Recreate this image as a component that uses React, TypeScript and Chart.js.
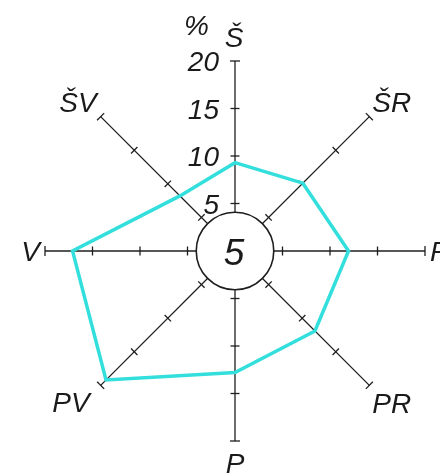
import React, { useEffect, useRef } from "react";
import { Chart, registerables } from "chart.js";

Chart.register(...registerables);

const directions = ["Š", "ŠR", "R", "PR", "P", "PV", "V", "ŠV"];
const frequencies = [9.3, 10.1, 11.95, 11.9, 12.8, 19.2, 17.1, 8.2];
const tickValues = [5, 10, 15, 20];
const tickLabels = ["5", "10", "15", "20"];
const calmValue = "5";
const unitLabel = "%";

const FONT = '"Liberation Sans", Arial, sans-serif';
const LINE_COLOR = "#33dfdc";
const AXIS_COLOR = "#1e1e1e";

// label placement per direction: [align, dx, dy] relative to axis end
const labelPlacement: [CanvasTextAlign, number, number][] = [
  ["center", -1, -14],
  ["left", 3, -5],
  ["left", 5, 10],
  ["left", 3, 28],
  ["center", 0, 32],
  ["right", -11, 27],
  ["right", -5, 10],
  ["right", -4, -5],
];

const roseDecor = {
  id: "roseDecor",
  beforeDatasetsDraw(chart: any) {
    const scale = chart.scales.r;
    const ctx: CanvasRenderingContext2D = chart.ctx;
    const cx = scale.xCenter;
    const cy = scale.yCenter;
    ctx.save();
    ctx.strokeStyle = AXIS_COLOR;
    ctx.lineWidth = 1.3;
    // tick marks
    for (let i = 0; i < directions.length; i++) {
      for (const v of tickValues) {
        const p = scale.getPointPositionForValue(i, v);
        const dx = p.x - cx;
        const dy = p.y - cy;
        const len = Math.hypot(dx, dy);
        const nx = -dy / len;
        const ny = dx / len;
        const h = v === 20 ? 5 : 4.5;
        ctx.beginPath();
        ctx.moveTo(p.x - nx * h, p.y - ny * h);
        ctx.lineTo(p.x + nx * h, p.y + ny * h);
        ctx.stroke();
      }
    }
    // calm circle
    const rad = scale.getDistanceFromCenterForValue(4.08);
    ctx.beginPath();
    ctx.arc(cx, cy, rad, 0, Math.PI * 2);
    ctx.fillStyle = "#ffffff";
    ctx.fill();
    ctx.lineWidth = 1.6;
    ctx.stroke();
    ctx.fillStyle = "#1a1a1a";
    ctx.textAlign = "center";
    ctx.textBaseline = "alphabetic";
    ctx.font = `italic 37px ${FONT}`;
    ctx.fillText(calmValue, cx - 1, cy + 14);

    // tick labels on north axis
    ctx.font = `italic 28px ${FONT}`;
    ctx.textAlign = "right";
    tickValues.forEach((v, k) => {
      const p = scale.getPointPositionForValue(0, v);
      ctx.fillText(tickLabels[k], p.x - 16, p.y + 10);
    });
    const top = scale.getPointPositionForValue(0, 20);
    ctx.fillText(unitLabel, top.x - 26, top.y - 26);

    // direction labels
    directions.forEach((d, i) => {
      const p = scale.getPointPositionForValue(i, 20);
      const [align, ox, oy] = labelPlacement[i];
      ctx.textAlign = align;
      ctx.fillText(d, p.x + ox, p.y + oy);
    });
    ctx.restore();
  },
};

export default function App() {
  const ref = useRef<HTMLCanvasElement>(null);
  useEffect(() => {
    if (!ref.current) return;
    const chart = new Chart(ref.current, {
      type: "radar",
      data: {
        labels: directions,
        datasets: [
          {
            data: frequencies,
            borderColor: LINE_COLOR,
            borderWidth: 3.5,
            backgroundColor: "transparent",
            fill: false,
            pointRadius: 0,
            pointHoverRadius: 0,
            tension: 0,
          },
        ],
      },
      options: {
        responsive: false,
        animation: false,
        layout: { padding: { left: 45.5, right: 14.5, top: 61, bottom: 34 } },
        plugins: { legend: { display: false }, tooltip: { enabled: false } },
        scales: {
          r: {
            min: 0,
            max: 20,
            ticks: { display: false, stepSize: 5 },
            grid: { display: false },
            angleLines: { display: true, color: AXIS_COLOR, lineWidth: 1.3 },
            pointLabels: { display: false },
          },
        },
      },
      plugins: [roseDecor],
    });
    return () => chart.destroy();
  }, []);
  return (
    <div style={{ position: "absolute", left: 0, top: 0, width: 440, height: 475, background: "#fff" }}>
      <canvas ref={ref} width={440} height={475} />
    </div>
  );
}
